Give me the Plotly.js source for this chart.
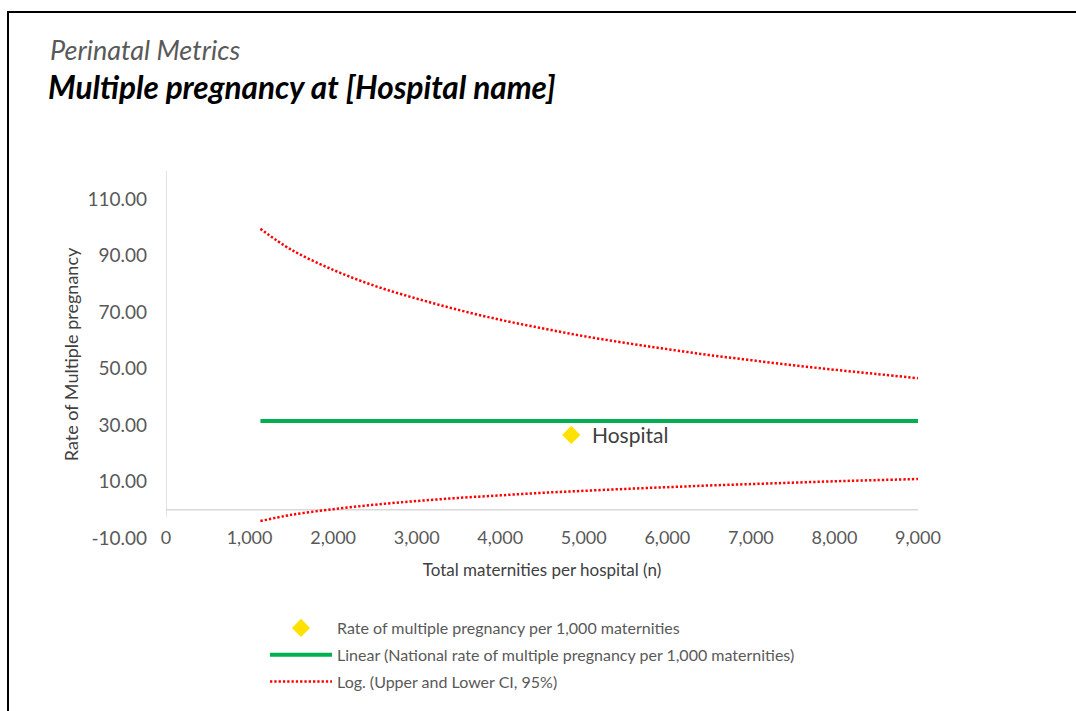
<!DOCTYPE html>
<html>
<head>
<meta charset="utf-8">
<script src="https://cdn.plot.ly/plotly-3.0.1.min.js"></script>
<style>
  html, body { margin: 0; padding: 0; background: #fff; }
  #chart { width: 1076px; height: 711px; }
  #frame { position: absolute; left: 7px; top: 11px; width: 1069px; height: 700px;
           border-left: 2px solid #000; border-top: 2px solid #000; pointer-events: none; }
</style>
</head>
<body>
<div id="chart"></div>
<div id="frame"></div>
<script>
// ---- data ----
const ciX    = [1130, 1500, 2000, 2500, 3000, 3500, 4000, 4500, 5000, 5500, 6000, 6500, 7000, 7500, 8000, 8500, 9000];
const upperCI = [99.5, 92.1, 85.0, 79.3, 74.8, 70.8, 67.3, 64.3, 61.5, 59.1, 56.9, 54.8, 53.0, 51.2, 49.6, 48.1, 46.6];
const lowerCI = [-4.0, -1.8, 0.2, 1.8, 3.1, 4.2, 5.1, 6.0, 6.7, 7.4, 8.0, 8.6, 9.1, 9.6, 10.1, 10.5, 10.9];
const nationalX = [1130, 9000];
const nationalY = [31.4, 31.4];
const hospitalX = [4850];
const hospitalY = [26.5];
const hospitalLabel = "Hospital";
const seriesNames = [
  "Rate of multiple pregnancy per 1,000 maternities",
  "Linear (National rate of multiple pregnancy per 1,000 maternities)",
  "Log. (Upper and Lower CI, 95%)"
];
const chartSuper = "Perinatal Metrics";
const chartTitle = "Multiple pregnancy at [Hospital name]";
const xTitle = "Total maternities per hospital (n)";
const yTitle = "Rate of Multiple pregnancy";
const xTickVals = [0, 1000, 2000, 3000, 4000, 5000, 6000, 7000, 8000, 9000];
const xTickText = ["0", "1,000", "2,000", "3,000", "4,000", "5,000", "6,000", "7,000", "8,000", "9,000"];
const yTickVals = [-10, 10, 30, 50, 70, 90, 110];
const yTickText = ["-10.00", "10.00", "30.00", "50.00", "70.00", "90.00", "110.00"];

const FONT = "Lato, 'Open Sans', sans-serif";
const redLine = { color: "#FF0000", width: 2.5, dash: "2.3px,2px", shape: "spline" };

const traces = [
  { x: hospitalX, y: hospitalY, type: "scatter", mode: "markers", name: seriesNames[0],
    legendgroup: "a", marker: { symbol: "diamond", size: 14, color: "#FFE100" } },
  { x: nationalX, y: nationalY, type: "scatter", mode: "lines", name: seriesNames[1],
    legendgroup: "b", line: { color: "#00B050", width: 4 } },
  { x: ciX, y: upperCI, type: "scatter", mode: "lines", name: seriesNames[2],
    legendgroup: "c", line: redLine },
  { x: ciX, y: lowerCI, type: "scatter", mode: "lines", name: seriesNames[2],
    legendgroup: "c", showlegend: false, line: redLine }
];

const layout = {
  width: 1076, height: 711,
  margin: { l: 166, r: 158, t: 171, b: 173, autoexpand: false },
  paper_bgcolor: "#fff", plot_bgcolor: "#fff",
  font: { family: FONT, color: "#595959" },
  showlegend: true,
  title: {
    text: chartTitle,
    font: { family: FONT, size: 31.5, color: "#000", weight: "bold", style: "italic" },
    xref: "container", yref: "container",
    x: 48 / 1076, xanchor: "left",
    y: 1 - 88 / 711, yanchor: "middle"
  },
  xaxis: {
    range: [0, 9000], tickvals: xTickVals, ticktext: xTickText, automargin: false,
    showgrid: false, zeroline: false, showline: false, ticks: "",
    ticklabelstandoff: -13,
    tickfont: { family: FONT, size: 18, color: "#595959" },
    title: { text: xTitle, font: { family: FONT, size: 17, color: "#404040" }, standoff: 17 }
  },
  yaxis: {
    range: [-10, 120], tickvals: yTickVals, ticktext: yTickText, automargin: false,
    showgrid: false, zeroline: false, showline: false, ticks: "",
    ticklabelstandoff: 18,
    tickfont: { family: FONT, size: 19, color: "#595959" },
    title: { text: yTitle, font: { family: FONT, size: 18, color: "#404040" }, standoff: 4 }
  },
  shapes: [
    { type: "line", xref: "x", yref: "y", x0: 0, x1: 9000, y0: 0, y1: 0,
      line: { color: "#D9D9D9", width: 1.5 }, layer: "below" },
    { type: "line", xref: "x", yref: "y", x0: 0, x1: 0, y0: -2.5, y1: 120,
      line: { color: "#D9D9D9", width: 1.5 }, layer: "below" }
  ],
  annotations: [
    { text: chartSuper, xref: "paper", yref: "paper",
      x: (48 - 166) / 752, y: (538 - 50) / 367, xanchor: "left", yanchor: "middle",
      showarrow: false, font: { family: FONT, size: 27, color: "#595959", style: "italic" } },
    { text: hospitalLabel, x: hospitalX[0], y: hospitalY[0], xref: "x", yref: "y",
      xanchor: "left", yanchor: "middle", xshift: 19, showarrow: false,
      font: { family: FONT, size: 21, color: "#404040" } }
  ],
  legend: {
    x: (265 - 166) / 752, y: (538 - 611) / 367, xanchor: "left", yanchor: "top",
    traceorder: "grouped", tracegroupgap: 3, bgcolor: "rgba(0,0,0,0)", itemwidth: 62,
    font: { family: FONT, size: 16, color: "#595959" }
  }
};

Plotly.newPlot("chart", traces, layout, { displayModeBar: false, staticPlot: true });
</script>
</body>
</html>
